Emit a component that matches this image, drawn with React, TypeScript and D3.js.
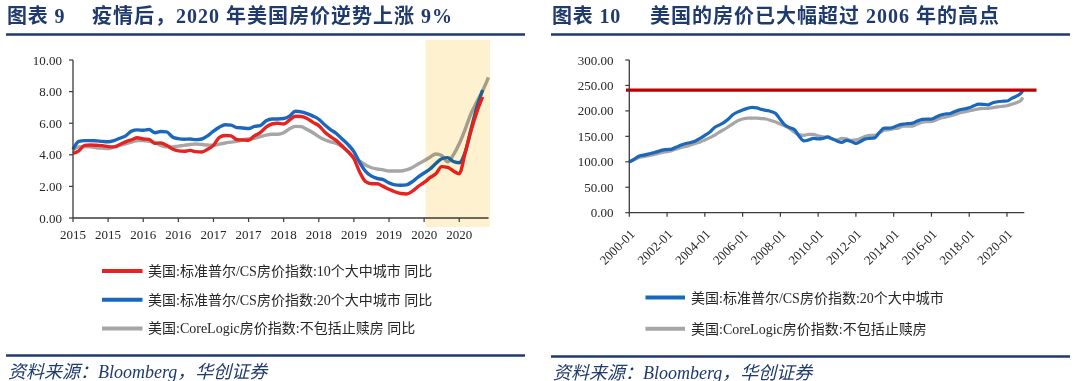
import React from 'react';
import * as d3 from 'd3';

// ---------- Left chart data (monthly, 2015-01 ...) ----------
const leftXLabels = ['2015', '2015', '2016', '2016', '2017', '2017', '2018', '2018', '2019', '2019', '2020', '2020'];
const leftYTicks = [0, 2, 4, 6, 8, 10];
const cs10YoY = [
  4.09, 4.25, 4.6, 4.62, 4.6, 4.58, 4.52, 4.5, 4.65, 4.82, 4.95, 5.08,
  5.0, 4.98, 4.72, 4.75, 4.6, 4.37, 4.25, 4.22, 4.28, 4.2, 4.18, 4.35,
  4.6, 5.1, 5.22, 5.2, 4.96, 4.94, 4.92, 5.2, 5.4, 5.75, 5.95, 6.0,
  5.95, 6.2, 6.44, 6.42, 6.3, 6.05, 5.85, 5.45, 5.15, 4.9, 4.55, 4.2,
  3.75, 2.9, 2.3, 2.17, 2.17, 2.0, 1.82, 1.66, 1.55, 1.52, 1.7, 2.0,
  2.25, 2.55, 2.8, 3.25, 3.2, 2.98, 2.8, 4.1, 5.5, 6.7, 7.66,
];
const cs20YoY = [
  4.35, 4.85, 4.9, 4.9, 4.88, 4.85, 4.83, 4.9, 5.05, 5.2, 5.5, 5.58,
  5.55, 5.6, 5.4, 5.47, 5.45, 5.13, 5.02, 4.98, 5.0, 4.96, 5.0, 5.2,
  5.5, 5.75, 5.9, 5.88, 5.72, 5.7, 5.66, 5.8, 5.85, 6.15, 6.27, 6.27,
  6.3, 6.45, 6.76, 6.72, 6.6, 6.45, 6.25, 5.9, 5.6, 5.35, 5.0, 4.65,
  4.2, 3.5, 2.95, 2.65, 2.5, 2.43, 2.22, 2.1, 2.07, 2.1, 2.3, 2.6,
  2.85, 3.1, 3.45, 3.75, 3.82, 3.58, 3.5, 4.15, 5.6, 7.0, 8.1,
];
const coreLogicYoY = [
  4.3, 4.5, 4.52, 4.5, 4.45, 4.42, 4.4, 4.5, 4.6, 4.7, 4.8, 4.9,
  4.9, 4.85, 4.78, 4.6, 4.5, 4.5, 4.55, 4.6, 4.65, 4.68, 4.65, 4.62,
  4.6, 4.68, 4.75, 4.8, 4.85, 4.95, 5.0, 5.05, 5.15, 5.25, 5.3, 5.3,
  5.4, 5.65, 5.8, 5.78, 5.6, 5.4, 5.15, 4.95, 4.82, 4.72, 4.5, 4.2,
  3.85, 3.6, 3.35, 3.18, 3.1, 3.05, 2.97, 2.97, 2.97, 3.05, 3.2, 3.42,
  3.62, 3.85, 4.05, 3.95, 3.55, 4.0, 4.7, 5.6, 6.6, 7.35, 8.05, 8.9,
];
const shadeStartIndex = 60;

// ---------- Right chart data (quarterly from 2000-01, last point 2020-11) ----------
const rightXLabels = ['2000-01', '2002-01', '2004-01', '2006-01', '2008-01', '2010-01', '2012-01', '2014-01', '2016-01', '2018-01', '2020-01'];
const rightYTicks = [0, 50, 100, 150, 200, 250, 300];
const cs20Index = [
  100, 105, 111, 113, 115, 117.5, 120, 123, 124, 125, 129, 133,
  136, 138, 141, 146, 152, 158, 167, 172, 177, 184, 193, 198,
  202, 205, 207, 206, 203, 201, 199, 195, 183, 172, 167, 163,
  150, 141, 143, 146, 145, 146, 149, 145, 141, 138, 142, 140,
  136, 140, 145, 146, 147, 158, 166, 166, 168, 172, 174, 175,
  176, 180, 183.5, 184, 184, 188, 192, 194, 195, 199, 202, 204,
  206, 210, 213.5, 213, 212, 216, 218, 219, 219.5, 224.5, 229, 235, 240,
];
const coreLogicIndex = [
  100, 104, 108, 110, 112, 114, 116, 118.5, 120, 122, 125, 128,
  130, 133, 136, 139, 143, 147, 152, 158, 163, 169, 175, 181,
  184, 186, 186, 186, 185, 184, 181, 178, 174, 170, 165, 158,
  153, 152, 154, 154, 151, 149, 148, 145, 143, 146, 145, 142,
  143, 146, 150, 152, 152, 157, 162, 163, 165, 166, 170, 170,
  170, 174, 178, 179, 179, 182, 186, 188, 190, 193, 196, 198,
  200, 202, 204, 205, 205, 206.5, 208, 209, 210, 213, 216, 221, 226.5,
];
const peak2006Line = 241;

const SERIF = "'Liberation Serif', 'Times New Roman', 'Noto Sans CJK SC', serif";
const NAVY = '#1f3a6e';
const RED = '#e8231f';
const BLUE = '#1a67bd';
const GRAY = '#a6a6a6';
const AXIS = '#3a3a3a';
const TXT = '#262626';

function Header({ x0, x1, label, title, titleX }: any) {
  return (
    <g>
      <text x={x0 + 1} y={23} fontFamily={SERIF} fontWeight={700} fontSize={20} letterSpacing={0.8} fill={NAVY}>{label}</text>
      <text x={titleX} y={23} fontFamily={SERIF} fontWeight={700} fontSize={20} letterSpacing={1} fill={NAVY}>{title}</text>
      <line x1={x0} x2={x1} y1={34.5} y2={34.5} stroke={NAVY} strokeWidth={2.5} />
    </g>
  );
}

function Footer({ x0, x1, y }: any) {
  return (
    <g>
      <line x1={x0} x2={x1} y1={y} y2={y} stroke={NAVY} strokeWidth={2.5} />
      <text x={x0 + 2} y={y + 22} fontFamily={SERIF} fontStyle="italic" fontSize={18} fill={NAVY}>资料来源：Bloomberg，华创证券</text>
    </g>
  );
}

function LeftChart() {
  const x = d3.scaleLinear().domain([0, 71]).range([73, 488.5]);
  const y = d3.scaleLinear().domain([0, 10]).range([218, 60]);
  const line = d3.line<number>().x((_, i) => x(i)).y((d) => y(d)).curve(d3.curveMonotoneX);
  const series = [
    { data: cs10YoY, color: RED, name: '美国:标准普尔/CS房价指数:10个大中城市 同比' },
    { data: cs20YoY, color: BLUE, name: '美国:标准普尔/CS房价指数:20个大中城市 同比' },
    { data: coreLogicYoY, color: GRAY, name: '美国:CoreLogic房价指数:不包括止赎房 同比' },
  ];
  const tickIdx = leftXLabels.map((_, i) => i * 6);
  return (
    <g>
      {[series[2], series[1], series[0]].map((s, k) => (
        <path key={k} d={line(s.data) || ''} fill="none" stroke={s.color} strokeWidth={3.4} strokeLinejoin="round" />
      ))}
      <rect x={x(shadeStartIndex) + 1.5} y={40} width={490 - x(shadeStartIndex) - 1.5} height={187} fill="#fdf1cf" style={{ mixBlendMode: 'multiply' }} />
      <line x1={x(0)} x2={x(0)} y1={y(10)} y2={y(0)} stroke={AXIS} strokeWidth={1.3} />
      <line x1={x(0)} x2={x(71)} y1={y(0)} y2={y(0)} stroke={AXIS} strokeWidth={1.3} />
      {leftYTicks.map((t) => (
        <g key={t}>
          <line x1={x(0) - 4} x2={x(0)} y1={y(t)} y2={y(t)} stroke={AXIS} strokeWidth={1.2} />
          <text x={62} y={y(t)} dy="0.35em" textAnchor="end" fontFamily={SERIF} fontSize={13} fill={TXT}>{d3.format('.2f')(t)}</text>
        </g>
      ))}
      {tickIdx.map((ti, i) => (
        <g key={i}>
          <line x1={x(ti)} x2={x(ti)} y1={y(0)} y2={y(0) + 4} stroke={AXIS} strokeWidth={1.2} />
          <text x={x(ti)} y={239} textAnchor="middle" fontFamily={SERIF} fontSize={13} fill={TXT}>{leftXLabels[i]}</text>
        </g>
      ))}
      {series.map((s, i) => (
        <g key={i} transform={`translate(0, ${271 + i * 28.7})`}>
          <line x1={102} x2={142.5} y1={0} y2={0} stroke={s.color} strokeWidth={4} />
          <text x={148} y={0} dy="0.36em" fontFamily={SERIF} fontSize={14} fill={TXT}>{s.name}</text>
        </g>
      ))}
    </g>
  );
}

function RightChart() {
  const months = cs20Index.map((_, i) => (i < cs20Index.length - 1 ? i * 3 : 250));
  const x = d3.scaleLinear().domain([0, 251]).range([629.3, 1024.3]);
  const y = d3.scaleLinear().domain([0, 300]).range([212.7, 60]);
  const line = d3.line<number>().x((_, i) => x(months[i])).y((d) => y(d)).curve(d3.curveMonotoneX);
  const legend = [
    { color: BLUE, name: '美国:标准普尔/CS房价指数:20个大中城市' },
    { color: GRAY, name: '美国:CoreLogic房价指数:不包括止赎房' },
  ];
  return (
    <g>
      <path d={line(coreLogicIndex) || ''} fill="none" stroke={GRAY} strokeWidth={3.2} strokeLinejoin="round" />
      <path d={line(cs20Index) || ''} fill="none" stroke={BLUE} strokeWidth={3.2} strokeLinejoin="round" />
      <line x1={626} x2={1036.5} y1={y(peak2006Line)} y2={y(peak2006Line)} stroke="#c00000" strokeWidth={3.3} />
      <line x1={x(0)} x2={x(0)} y1={y(300)} y2={y(0)} stroke={AXIS} strokeWidth={1.3} />
      <line x1={x(0)} x2={x(251)} y1={y(0)} y2={y(0)} stroke={AXIS} strokeWidth={1.3} />
      {rightYTicks.map((t) => (
        <g key={t}>
          <line x1={x(0) - 4} x2={x(0)} y1={y(t)} y2={y(t)} stroke={AXIS} strokeWidth={1.2} />
          <text x={613.5} y={y(t)} dy="0.35em" textAnchor="end" fontFamily={SERIF} fontSize={13} fill={TXT}>{d3.format('.2f')(t)}</text>
        </g>
      ))}
      {rightXLabels.map((lab, i) => {
        const xx = x(i * 24);
        return (
          <g key={lab}>
            <line x1={xx} x2={xx} y1={y(0)} y2={y(0) + 4} stroke={AXIS} strokeWidth={1.2} />
            <text transform={`translate(${xx + 3}, ${y(0) + 19}) rotate(-45)`} textAnchor="end" dy="0.35em" fontFamily={SERIF} fontSize={13} fill={TXT}>{lab}</text>
          </g>
        );
      })}
      {legend.map((s, i) => (
        <g key={i} transform={`translate(0, ${297.6 + i * 31.2})`}>
          <line x1={645.5} x2={685} y1={0} y2={0} stroke={s.color} strokeWidth={4} />
          <text x={691} y={0} dy="0.36em" fontFamily={SERIF} fontSize={14} fill={TXT}>{s.name}</text>
        </g>
      ))}
    </g>
  );
}

export default function App() {
  return (
    <svg width={1080} height={381} style={{ position: 'absolute', left: 0, top: 0, background: '#fff' }}>
      <rect width={1080} height={381} fill="#fff" />
      <Header x0={6} x1={525} label="图表 9" title="疫情后，2020 年美国房价逆势上涨 9%" titleX={92} />
      <Header x0={551} x1={1070} label="图表 10" title="美国的房价已大幅超过 2006 年的高点" titleX={650} />
      <LeftChart />
      <RightChart />
      <Footer x0={6} x1={525} y={355.5} />
      <Footer x0={551} x1={1070} y={356.5} />
    </svg>
  );
}
